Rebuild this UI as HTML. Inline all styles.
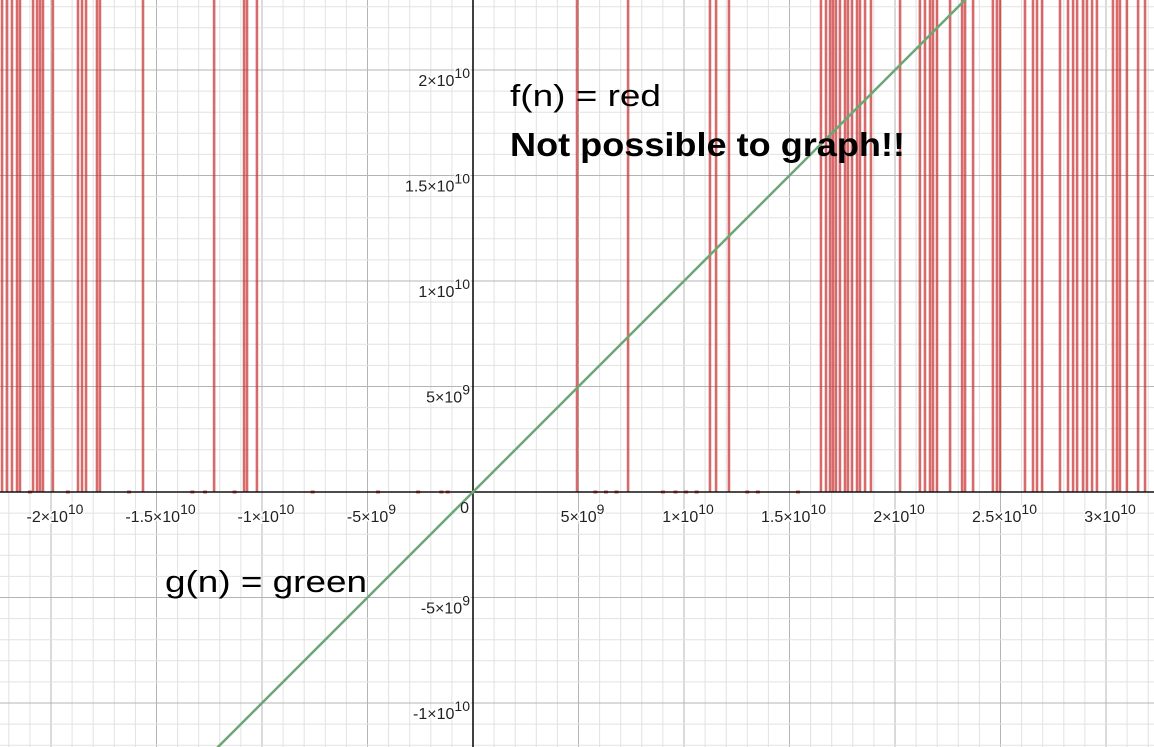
<!DOCTYPE html>
<html><head><meta charset="utf-8"><style>
html,body{margin:0;padding:0;background:#fff;overflow:hidden;width:1154px;height:747px;}
svg{display:block;font-family:"Liberation Sans",sans-serif;}
</style></head><body>
<svg id="chart" width="1154" height="747" viewBox="0 0 1154 747" xmlns="http://www.w3.org/2000/svg">
<g id="grid"></g>
<g id="marks"></g>
<g id="axes"></g>
<g id="labels"></g>
<text x="510" y="106" font-size="31" textLength="151" lengthAdjust="spacingAndGlyphs" fill="#000">f(n) = red</text>
<text x="510" y="156" font-size="33" font-weight="bold" textLength="395" lengthAdjust="spacingAndGlyphs" fill="#000">Not possible to graph!!</text>
<text x="165" y="592" font-size="31" textLength="202" lengthAdjust="spacingAndGlyphs" fill="#000">g(n) = green</text>
</svg>
<script>
// data values in units of 1e9
const redXs = [-22.32,-22.09,-21.85,-21.61,-21.47,-20.85,-20.66,-20.52,-20.38,-19.91,-18.72,-18.53,-18.34,-17.82,-17.68,-15.64,-12.27,-10.85,-10.71,-10.24,
4.93,7.35,11.23,11.52,12.13,16.49,16.73,16.92,17.06,17.20,17.39,17.63,17.77,17.96,18.20,18.34,18.58,18.86,20.24,21.18,21.42,21.66,21.80,21.99,22.61,23.18,23.32,23.70,24.64,24.83,24.98,26.16,26.54,26.73,26.97,27.82,28.20,28.44,28.63,28.91,29.10,29.34,29.57,30.33,30.52,30.66,30.99,31.52,31.85];
const redDots = [-21.0,-19.2,-16.3,-13.3,-12.7,-11.3,-7.6,-4.5,-2.6,-1.5,-1.2,5.8,6.3,6.8,9.0,9.6,10.1,10.6,13.0,13.5,15.4];
const xTicks = [-20,-15,-10,-5,5,10,15,20,25,30];
const xTickLabels = ["-2×10|10","-1.5×10|10","-1×10|10","-5×10|9","5×10|9","1×10|10","1.5×10|10","2×10|10","2.5×10|10","3×10|10"];
const yTicks = [20,15,10,5,-5,-10];
const yTickLabels = ["2×10|10","1.5×10|10","1×10|10","5×10|9","-5×10|9","-1×10|10"];
const lineXs = [-30,40];

const NS="http://www.w3.org/2000/svg";
const OX=473, OY=492, S=21.1;
const sx=v=>OX+v*S, sy=v=>OY-v*S;
function mk(tag,attrs,parent){const e=document.createElementNS(NS,tag);for(const k in attrs)e.setAttribute(k,attrs[k]);parent.appendChild(e);return e;}
const grid=document.getElementById('grid'),marks=document.getElementById('marks'),axes=document.getElementById('axes'),labels=document.getElementById('labels');
for(let i=-23;i<=33;i++){const x=sx(i);const major=i%5===0;
 const l=mk('line',{x1:x,y1:0,x2:x,y2:747,stroke:major?'#b4b4b4':'#e2e2e2','stroke-width':1},grid);
 
 }
for(let j=-13;j<=24;j++){const y=sy(j);const major=j%5===0;
 const l=mk('line',{x1:0,y1:y,x2:1154,y2:y,stroke:major?'#b4b4b4':'#e2e2e2','stroke-width':1},grid);
 
 }
redXs.forEach(v=>{const l=mk('line',{x1:sx(v),y1:0,x2:sx(v),y2:OY,stroke:'rgba(200,50,50,0.72)','stroke-width':2.6},marks);
 
 });
redDots.forEach(v=>{const l=mk('line',{x1:sx(v)-2,y1:OY,x2:sx(v)+2,y2:OY,stroke:'rgba(200,50,50,0.8)','stroke-width':3},marks);
 
 });
const ax=mk('line',{x1:0,y1:OY,x2:1154,y2:OY,stroke:'#111','stroke-width':1.6},axes);


const ay=mk('line',{x1:OX,y1:0,x2:OX,y2:747,stroke:'#111','stroke-width':1.6},axes);


const g=mk('line',{x1:sx(lineXs[0]),y1:sy(lineXs[0]),x2:sx(lineXs[1]),y2:sy(lineXs[1]),stroke:'#6aa874','stroke-width':2.5},axes);


function lbl(str,x,y,anchor){const [b,e]=str.split('|');
 const t=mk('text',{x:x,y:y,'font-size':16,fill:'#222','text-anchor':anchor,stroke:'#fff','stroke-width':3,'paint-order':'stroke'},labels);
 
 
 t.appendChild(document.createTextNode(b));
 const s=document.createElementNS(NS,'tspan');s.setAttribute('dy','-8');s.setAttribute('font-size','14');s.textContent=e;t.appendChild(s);}
xTicks.forEach((v,i)=>lbl(xTickLabels[i],sx(v)+4,OY+30,'middle'));
yTicks.forEach((v,i)=>lbl(yTickLabels[i],OX-3,sy(v)+16,'end'));
const z=mk('text',{x:OX-4,y:OY+21,'font-size':16,fill:'#222','text-anchor':'end'},labels);


z.textContent='0';
</script>
</body></html>
